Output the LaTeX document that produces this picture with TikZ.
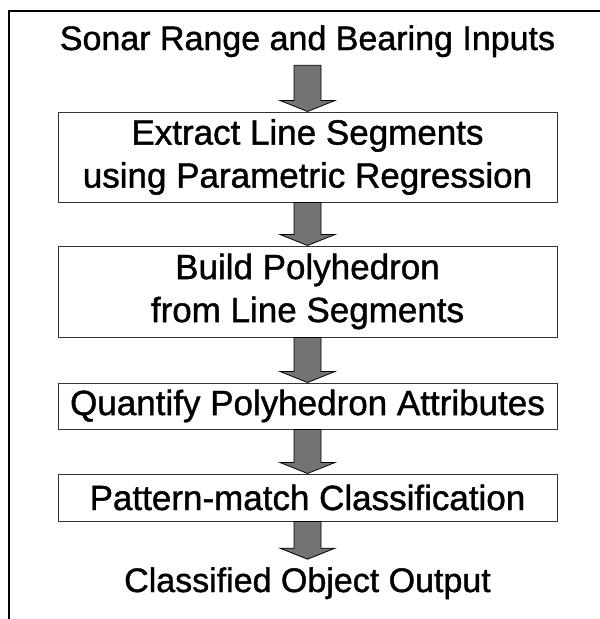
\documentclass[tikz,border=0pt]{standalone}
\usepackage{fontspec}
\setmainfont[FakeBold=1.2]{Liberation Sans}
\usetikzlibrary{calc}

% wide hollow-shaft arrow from one anchor down to another
\newcommand{\fatarrow}[2]{%
  \path let \p1=(#1), \p2=(#2) in
    [fatarr] (\x1-13.5pt,\y1) -- (\x1+13.5pt,\y1) -- (\x1+13.5pt,\y2+11pt)
    -- (\x1+27.5pt,\y2+11pt) -- (\x1,\y2) -- (\x1-27.5pt,\y2+11pt)
    -- (\x1-13.5pt,\y2+11pt) -- cycle;}

\begin{document}
\begin{tikzpicture}[
    x=1pt, y=-1pt,
    stage/.style={rectangle, draw=black!80, line width=1pt, minimum width=499pt, align=center, inner sep=0pt, font=\fontsize{35}{43}\selectfont},
    io/.style={inner sep=8pt, font=\fontsize{34}{41}\selectfont},
    fatarr/.style={draw=black, line width=0.8pt, fill=black!55}
]
\useasboundingbox (0,0) rectangle (600,619);

% Frame
\draw[line width=2pt] (9,619) -- (9,11) -- (600,11);

% Input and output
\node[io, anchor=base] (input) at (307.5,50) {Sonar Range and Bearing Inputs};
\node[io, anchor=base] (output) at (307.5,592) {Classified Object Output};

% Processing stages
\node[stage, minimum height=90pt] (extract) at (307.5,157) {Extract Line Segments\\using Parametric Regression};
\node[stage, minimum height=91pt] (build) at (307.5,291.5) {Build Polyhedron\\from Line Segments};
\node[stage, minimum height=46pt] (quantify) at (307.5,406) {Quantify Polyhedron Attributes};
\node[stage, minimum height=47pt] (match) at (307.5,497.5) {Pattern-match Classification};

% Arrows
\fatarrow{input.south}{extract.north}
\fatarrow{extract.south}{build.north}
\fatarrow{build.south}{quantify.north}
\fatarrow{quantify.south}{match.north}
\fatarrow{match.south}{output.north}

\end{tikzpicture}
\end{document}
